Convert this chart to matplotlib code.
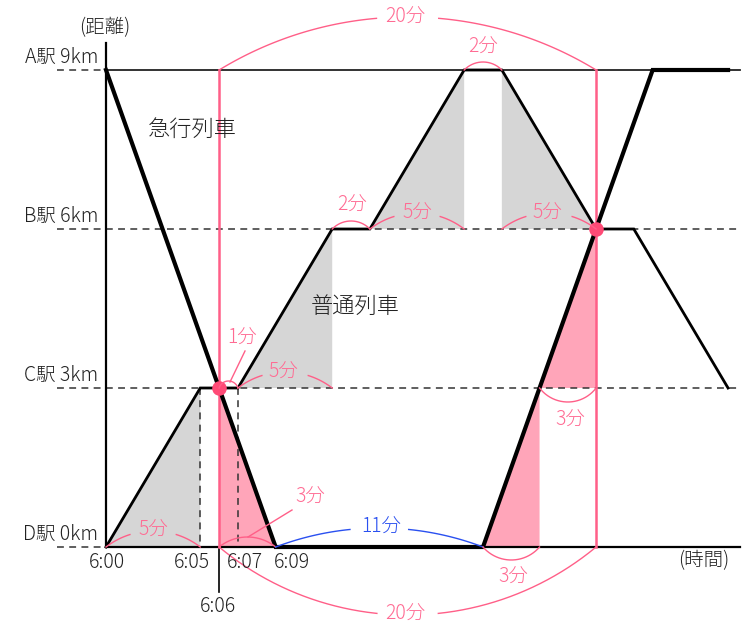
import numpy as np
import matplotlib
matplotlib.use("Agg")
import matplotlib.pyplot as plt

plt.rcParams['font.family'] = ['Noto Sans CJK JP', 'DejaVu Sans']

# ---- data (minutes after 6:00, km) ----
station_names = ["D駅", "C駅", "B駅", "A駅"]
station_km = [0, 3, 6, 9]
local_t = [0, 5, 7, 12, 14, 19, 21, 26, 28, 33]
local_km = [0, 3, 3, 6, 6, 9, 9, 6, 6, 3]
express_t = [0, 9, 20, 26, 29, 33]
express_km = [9, 0, 0, 6, 9, 9]
tick_minutes = [0, 5, 7, 9]
tick_labels = ["6:00", "6:05", "6:07", "6:09"]

# gray triangles (regular train running intervals)
gray_tris = [
    ([0, 5, 5], [0, 3, 0]),
    ([7, 12, 12], [3, 6, 3]),
    ([14, 19, 19], [6, 9, 6]),
    ([21, 26, 21], [9, 6, 6]),
]
pink_tris = [
    ([6, 6, 9], [3, 0, 0]),
    ([20, 23, 23], [0, 3, 0]),
    ([23, 26, 26], [3, 6, 3]),
]

# ---- figure / pixel mapping ----
W, H = 742, 628
SX, SY = 18.85, 53.0   # px per minute, px per km
X0, Y0 = 106.0, 547.0  # pixel of (6:00, 0km)

fig = plt.figure(figsize=(W / 100, H / 100), dpi=100)
ax = fig.add_axes([0, 0, 1, 1])
ax.set_xlim(-X0 / SX, (W - X0) / SX)
ax.set_ylim((Y0 - H) / SY, Y0 / SY)
ax.axis('off')

def px(x, y):
    """pixel (from top-left) -> data"""
    return (x - X0) / SX, (Y0 - y) / SY

PINK = '#ff5f88'
PINKTXT = '#ff6b93'
PINKFILL = '#ffa5b9'
GRAY = '#d6d6d6'
BLUE = '#2a50f0'
DASH = (0, (4.5, 3.5))

for xs, ys in gray_tris:
    ax.fill(xs, ys, color=GRAY, lw=0, zorder=1)
for xs, ys in pink_tris:
    ax.fill(xs, ys, color=PINKFILL, lw=0, zorder=1)

xr = (W - 2 - X0) / SX
xl = (57 - X0) / SX
# station guide lines
ax.plot([0, xr], [9, 9], color='#222222', lw=1.3, zorder=2)
ax.plot([xl, 0], [9, 9], color='#333333', lw=1.1, ls=DASH, zorder=2)
for km in (3, 6):
    ax.plot([xl, xr], [km, km], color='#333333', lw=1.1, ls=DASH, zorder=2)
ax.plot([xl, 0], [0, 0], color='#333333', lw=1.1, ls=DASH, zorder=2)
ax.plot([0, xr], [0, 0], color='black', lw=1.6, zorder=2)
# y axis
ax.plot([0, 0], [0, px(0, 43)[1]], color='black', lw=1.6, zorder=2)
# dashed verticals
for t in (5, 7):
    ax.plot([t, t], [3, 0], color='#333333', lw=1.1, ls=DASH, zorder=2)
# 6:06 tick
ax.plot([6, 6], [0, px(0, 592)[1]], color='black', lw=1.2, zorder=2)
# pink verticals
for t in (6, 26):
    ax.plot([t, t], [9, 0], color=PINK, lw=1.8, zorder=3)

# trains
ax.plot(local_t, local_km, color='black', lw=2.0, solid_joinstyle='miter', zorder=4)
ax.plot(express_t, express_km, color='black', lw=3.0, solid_joinstyle='miter', zorder=5)

# intersection dots
ax.scatter([6, 26], [3, 6], s=110, color='#ff4a76', zorder=6, lw=0)

def arc(t1, t2, y, sag, color, gap=0.0, lw=1.0):
    x1, x2 = t1 * SX, t2 * SX
    y0 = y * SY
    h = (x2 - x1) / 2
    mx = (x1 + x2) / 2
    sg = np.sign(sag)
    r = (h * h + sag * sag) / (2 * abs(sag))
    cy = y0 + sag - sg * r
    th = np.arcsin(min(h / r, 1.0))
    phi = np.linspace(-th, th, 300)
    xs = mx + r * np.sin(phi)
    ys = cy + sg * r * np.cos(phi)
    if gap > 0:
        m = np.abs(xs - mx) > gap / 2
        left = m & (xs < mx)
        right = m & (xs > mx)
        for sel in (left, right):
            ax.plot(xs[sel] / SX, ys[sel] / SY, color=color, lw=lw, zorder=7)
    else:
        ax.plot(xs / SX, ys / SY, color=color, lw=lw, zorder=7)

FS = 14
def label(x, y, s, color=PINKTXT, fs=FS, ha='center'):
    tx, ty = px(x, y)
    ax.text(tx, ty, s, color=color, fontsize=fs, ha=ha, va='center',
            fontweight='light', zorder=8)

# arcs with labels
arc(6, 26, 9, 53, PINK, gap=60); label(405, 17, "20分")
arc(6, 26, 0, -68, PINK, gap=60); label(405, 614, "20分")
arc(19, 21, 9, 8, PINK); label(483, 47, "2分")
arc(12, 14, 6, 8, PINK); label(352, 205, "2分")
arc(14, 19, 6, 16, PINK, gap=46); label(417, 213, "5分")
arc(21, 26, 6, 16, PINK, gap=46); label(547, 213, "5分")
arc(7, 12, 3, 16, PINK, gap=46); label(283, 372, "5分")
arc(0, 5, 0, 16, PINK, gap=46); label(153, 530, "5分")
arc(6, 7, 3, 7, PINK)
ax.plot(*zip(px(230, 382), px(245, 351)), color=PINK, lw=1.0, zorder=7)
label(242, 338, "1分")
arc(6, 9, 0, 10, PINK)
ax.plot(*zip(px(248, 537), px(292, 510)), color=PINK, lw=1.0, zorder=7)
label(310, 497, "3分")
arc(9, 20, 0, 19, BLUE, gap=58); label(381, 527, "11分", color=BLUE)
arc(20, 23, 0, -13, PINK); label(513, 577, "3分")
arc(23, 26, 3, -14, PINK); label(570, 420, "3分")

# station labels
for name, km in zip(station_names, station_km):
    ty = Y0 - km * SY - 13
    label(98, ty, f"{name} {km}km", color='#222222', ha='right')

label(105, 28, "(距離)", color='#222222')
label(704, 561, "(時間)", color='#222222')

# tick labels
tick_px = [107, 192, 245, 292]
for t, lab, xp in zip(tick_minutes, tick_labels, tick_px):
    label(xp, 563, lab, color='#222222')
label(218, 607, "6:06", color='#222222')

label(192, 130, "急行列車", color='#222222', fs=16)
label(355, 307, "普通列車", color='#222222', fs=16)

fig.savefig("out.png", dpi=100)
